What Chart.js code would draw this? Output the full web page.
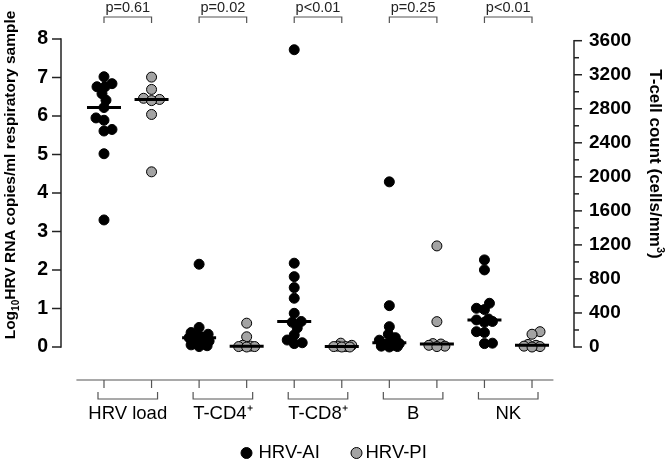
<!DOCTYPE html>
<html>
<head>
<meta charset="utf-8">
<script src="https://cdn.jsdelivr.net/npm/chart.js@4.4.1/dist/chart.umd.min.js"></script>
<style>
  html, body { margin: 0; padding: 0; background: #fff; }
</style>
</head>
<body>
<canvas id="chart" width="666" height="462"></canvas>
<script>
const groups = ['HRV load', 'T-CD4⁺', 'T-CD8⁺', 'B', 'NK'];
const pValues = ['p=0.61', 'p=0.02', 'p<0.01', 'p=0.25', 'p<0.01'];
const seriesNames = ['HRV-AI', 'HRV-PI'];

// log10 HRV RNA copies/ml (left axis)
const hrvLoadAI = [7.02, 6.84, 6.76, 6.76, 6.58, 6.41, 6.22, 5.95, 5.89, 5.65, 5.61, 5.02, 3.3];
const hrvLoadPI = [7.01, 6.69, 6.46, 6.43, 6.40, 6.04, 4.55];

// cells/mm3 (right axis)
const cd4AI = [973, 230, 170, 150, 130, 120, 110, 70, 50, 35, 25, 15, 5];
const cd4PI = [280, 120, 20, 10, 5, 5, 0];
const cd8AI = [3494, 985, 827, 698, 573, 396, 300, 290, 224, 141, 82, 50, 40];
const cd8PI = [45, 20, 10, 5, 5, 0, 0];
const bAI = [1941, 486, 239, 150, 110, 80, 50, 40, 30, 20, 10, 5, 0];
const bPI = [1188, 298, 40, 35, 20, 10, 5];
const nkAI = [1024, 906, 514, 455, 440, 330, 318, 300, 290, 180, 170, 45, 40];
const nkPI = [180, 150, 30, 20, 10, 5, 0];

const leftTicks = [0, 1, 2, 3, 4, 5, 6, 7, 8];
const rightTicks = [0, 400, 800, 1200, 1600, 2000, 2400, 2800, 3200, 3600];
const rightMinorStep = 200;

const aiRight = [cd4AI, cd8AI, bAI, nkAI];
const piRight = [cd4PI, cd8PI, bPI, nkPI];

const FONT = "'Liberation Sans', Arial, sans-serif";
const GREY = '#a3a3a3';

const median = (arr) => {
  const s = [...arr].sort((a, b) => a - b);
  const m = Math.floor(s.length / 2);
  return s.length % 2 ? s[m] : (s[m - 1] + s[m]) / 2;
};

const toPts = (cols, startX) => cols.flatMap((vals, k) => vals.map(v => ({ x: startX + 2 * k, y: v })));

const medLeft = [{ x: 0, y: median(hrvLoadAI) }, { x: 1, y: median(hrvLoadPI) }];
const medRight = aiRight.flatMap((vals, k) => [
  { x: 2 + 2 * k, y: median(vals) },
  { x: 3 + 2 * k, y: median(piRight[k]) }
]);

Chart.defaults.font.family = FONT;
Chart.defaults.color = '#000';

// draws axis lines, brackets, p-values, titles and legend
const decor = {
  id: 'decor',
  afterDraw(c) {
    const g = c.ctx, x = c.scales.x, yl = c.scales.y, yr = c.scales.y2, a = c.chartArea;
    const line = (x1, y1, x2, y2) => { g.beginPath(); g.moveTo(x1, y1); g.lineTo(x2, y2); g.stroke(); };
    const px = (i) => x.getPixelForValue(i);
    g.save();

    // left axis
    g.strokeStyle = '#222'; g.lineWidth = 1.5;
    line(a.left, yl.getPixelForValue(0) + 0.75, a.left, yl.getPixelForValue(8) - 0.75);
    leftTicks.forEach(v => { const p = yl.getPixelForValue(v); line(a.left - 9, p, a.left, p); });

    // right axis
    line(a.right, yr.getPixelForValue(0) + 0.75, a.right, yr.getPixelForValue(3600) - 0.75);
    for (let v = 0; v <= 3600; v += rightMinorStep) {
      const p = yr.getPixelForValue(v);
      line(a.right, p, a.right + (v % 400 === 0 ? 8 : 5), p);
    }

    // bottom axis with group brackets
    const base = a.bottom + 33;
    g.strokeStyle = '#555'; g.lineWidth = 1.2;
    line(px(-0.58), base, px(9.45), base);
    for (let i = 0; i < 10; i++) line(px(i), base, px(i), base + 8);
    groups.forEach((_, k) => {
      const l = px(2 * k) - 6, r = px(2 * k + 1) + 6;
      g.beginPath();
      g.moveTo(l, base + 12); g.lineTo(l, base + 19); g.lineTo(r, base + 19); g.lineTo(r, base + 12);
      g.stroke();
    });

    // p-value brackets
    g.fillStyle = '#222';
    g.font = `14.5px ${FONT}`;
    g.textAlign = 'center'; g.textBaseline = 'alphabetic';
    pValues.forEach((t, k) => {
      const l = px(2 * k), r = px(2 * k + 1);
      g.beginPath();
      g.moveTo(l, 23); g.lineTo(l, 17); g.lineTo(r, 17); g.lineTo(r, 23);
      g.stroke();
      g.fillText(t, (l + r) / 2, 12);
    });

    // axis titles
    const drawParts = (parts, cx, cy, rot) => {
      g.save();
      g.translate(cx, cy); g.rotate(rot);
      g.textAlign = 'left'; g.textBaseline = 'alphabetic'; g.fillStyle = '#000';
      let w = 0;
      parts.forEach(p => { g.font = `bold ${p[1]}px ${FONT}`; w += g.measureText(p[0]).width; });
      let cur = -w / 2;
      parts.forEach(p => {
        g.font = `bold ${p[1]}px ${FONT}`;
        g.fillText(p[0], cur, p[2]);
        cur += g.measureText(p[0]).width;
      });
      g.restore();
    };
    drawParts([['Log', 15.5, 0], ['10', 10, 4], ['HRV RNA copies/ml respiratory sample', 15.5, 0]], 15, 175, -Math.PI / 2);
    drawParts([['T-cell count (cells/mm', 17, 0], ['3', 11, -7], [')', 17, 0]], 650, 164, Math.PI / 2);

    // legend
    const cx = (a.left + a.right) / 2, ly = 453;
    const items = [
      { dx: -71, tx: -59, ds: c.data.datasets[2] },
      { dx: 39, tx: 48, ds: c.data.datasets[3] }
    ];
    g.font = `18.5px ${FONT}`; g.textAlign = 'left'; g.textBaseline = 'middle';
    items.forEach(it => {
      g.beginPath();
      g.arc(cx + it.dx, ly, 5.5, 0, Math.PI * 2);
      g.fillStyle = it.ds.backgroundColor; g.fill();
      g.strokeStyle = '#000'; g.lineWidth = 1; g.stroke();
      g.fillStyle = '#000';
      g.fillText(it.ds.label, cx + it.tx, ly);
    });
    g.restore();
  }
};

const pointDs = (label, data, axis, color) => ({
  label, data, yAxisID: axis,
  backgroundColor: color, borderColor: '#000', borderWidth: 1,
  pointRadius: 5, clip: false, order: 2
});

const chart = new Chart(document.getElementById('chart'), {
  type: 'scatter',
  data: {
    datasets: [
      { label: 'median', data: medLeft, yAxisID: 'y', pointStyle: 'line', pointRadius: 17, borderWidth: 3, borderColor: '#000', clip: false, order: 0 },
      { label: 'median', data: medRight, yAxisID: 'y2', pointStyle: 'line', pointRadius: 17, borderWidth: 3, borderColor: '#000', clip: false, order: 0 },
      pointDs(seriesNames[0], toPts([hrvLoadAI], 0), 'y', '#000'),
      pointDs(seriesNames[1], toPts([hrvLoadPI], 1), 'y', GREY),
      pointDs(seriesNames[0], toPts(aiRight, 2), 'y2', '#000'),
      pointDs(seriesNames[1], toPts(piRight, 3), 'y2', GREY)
    ]
  },
  options: {
    animation: false,
    responsive: false,
    events: [],
    layout: { padding: { top: 39, left: 0, right: 0, bottom: 0 } },
    plugins: { legend: { display: false }, tooltip: { enabled: false } },
    scales: {
      x: {
        type: 'linear', min: -0.904, max: 9.883,
        grid: { display: false, drawTicks: false }, border: { display: false },
        afterBuildTicks: s => { s.ticks = groups.map((_, i) => ({ value: 2 * i + 0.5 })); },
        ticks: { callback: (v, i) => groups[i], padding: 56, font: { size: 18.5 }, color: '#000', maxRotation: 0, autoSkip: false },
        afterFit: s => { s.height = 115; }
      },
      y: {
        position: 'left', min: 0, max: 8,
        grid: { display: false, drawTicks: false }, border: { display: false },
        afterBuildTicks: s => { s.ticks = leftTicks.map(v => ({ value: v })); },
        ticks: { callback: v => String(v), font: { size: 19.5, weight: 'bold' }, padding: 13, color: '#000' },
        afterFit: s => { s.width = 61; }
      },
      y2: {
        position: 'right', min: 0, max: 3620,
        grid: { display: false, drawTicks: false }, border: { display: false },
        afterBuildTicks: s => { s.ticks = rightTicks.map(v => ({ value: v })); },
        ticks: { callback: v => String(v), font: { size: 19, weight: 'bold' }, padding: 15, color: '#000' },
        afterFit: s => { s.width = 92; }
      }
    }
  },
  plugins: [decor]
});

// simple beeswarm: spread overlapping points sideways, in pixel space
function swarm(values, yScale, pxPerX) {
  const placed = [];
  const offs = new Array(values.length).fill(0);
  const order = values.map((_, i) => i).sort((a, b) => values[a] - values[b]);
  let flip = 1;
  order.forEach(i => {
    const py = yScale.getPixelForValue(values[i]);
    let best = 0, bestScore = -1, done = false;
    for (let s = 0; s <= 10 && !done; s++) {
      const cands = s === 0 ? [0] : [s * flip, -s * flip];
      for (const dx of cands) {
        let md = Infinity;
        placed.forEach(p => { md = Math.min(md, Math.hypot(p[0] - dx, p[1] - py)); });
        if (md >= 7.5) { best = dx; done = true; break; }
        if (md > bestScore) { bestScore = md; best = dx; }
      }
    }
    if (best !== 0) flip = -Math.sign(best);
    placed.push([best, py]);
    offs[i] = best / pxPerX;
  });
  return offs;
}

const pxPerX = chart.scales.x.getPixelForValue(1) - chart.scales.x.getPixelForValue(0);
const applySwarm = (ds, cols, startX, scale) => {
  ds.data = cols.flatMap((vals, k) => {
    const offs = swarm(vals, scale, pxPerX);
    return vals.map((v, j) => ({ x: startX + 2 * k + offs[j], y: v }));
  });
};
const dsets = chart.data.datasets;
applySwarm(dsets[2], [hrvLoadAI], 0, chart.scales.y);
applySwarm(dsets[3], [hrvLoadPI], 1, chart.scales.y);
applySwarm(dsets[4], aiRight, 2, chart.scales.y2);
applySwarm(dsets[5], piRight, 3, chart.scales.y2);
chart.update('none');
</script>
</body>
</html>
